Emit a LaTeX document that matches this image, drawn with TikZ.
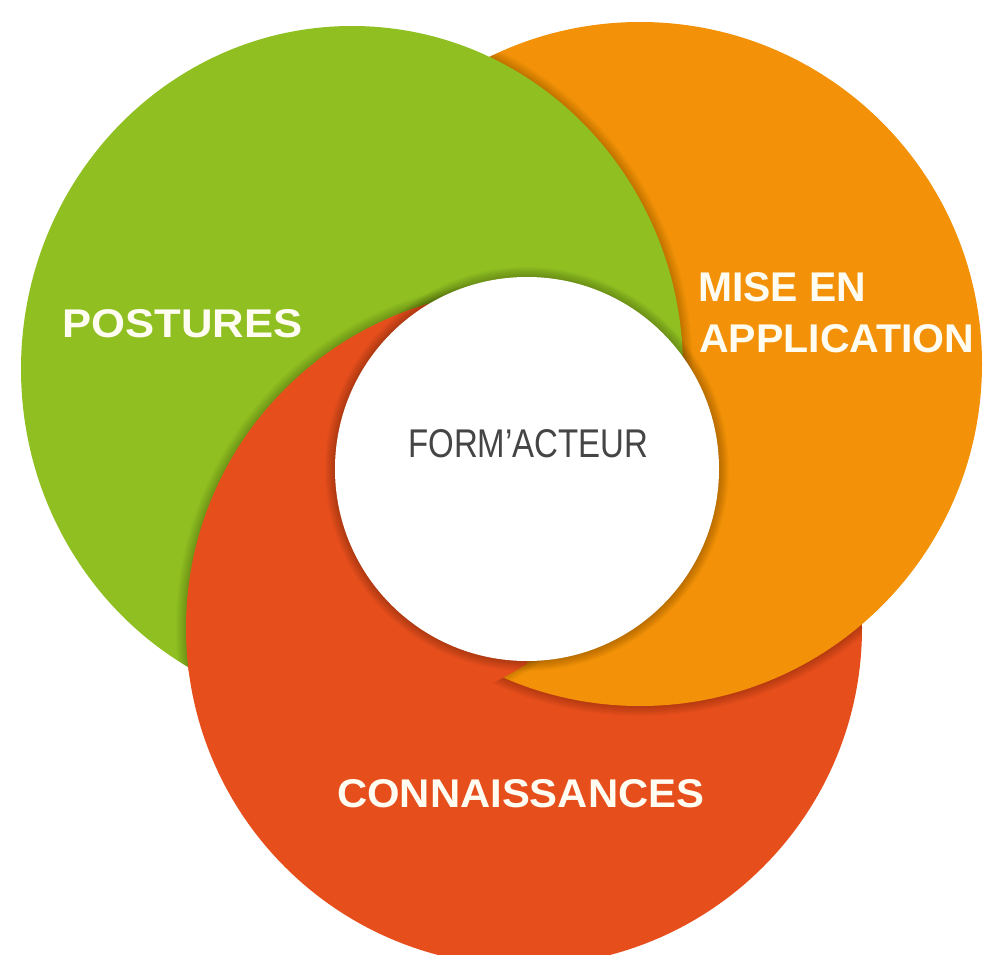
\documentclass[tikz,border=0pt]{standalone}
\usepackage{fontspec}
\setmainfont{Liberation Sans}
\usepackage{graphicx}
\definecolor{cgreen}{HTML}{8FBF21}
\definecolor{corange}{HTML}{F39208}
\definecolor{cred}{HTML}{E64E1C}
\definecolor{ctext}{HTML}{454545}
\definecolor{ccream}{HTML}{FFFDF2}
\begin{document}
\begin{tikzpicture}[x=1pt,y=-1pt,
  lab/.style={inner sep=0pt, anchor=south west, text=ccream, font=\bfseries},
  ctr/.style={inner sep=0pt, anchor=south west, text=ctext},
  shadowring/.style={black, opacity=0.02}]
\useasboundingbox (0,0) rectangle (986,955);
\fill[white] (0,0) rectangle (986,955);
\coordinate (G) at (352,369);
\coordinate (O) at (640,364);
\coordinate (R) at (524,628);
\coordinate (W) at (527,469);
% red base
\fill[cred] (R) circle[radius=338pt];
% orange over red, with shadow
\begin{scope}
  \clip (R) circle[radius=338pt];
  \foreach \d in {1,...,10} \fill[shadowring] (O) circle[radius={(342+\d)*1pt}];
\end{scope}
\fill[corange] (O) circle[radius=342pt];
% green over orange, with shadow
\begin{scope}
  \clip (O) circle[radius=342pt];
  \foreach \d in {1,...,10} \fill[shadowring] (G) ellipse[x radius={(331+\d)*1pt}, y radius={(343+\d)*1pt}];
\end{scope}
\fill[cgreen] (G) ellipse[x radius=331pt, y radius=343pt];
% red over green (left part), with shadow
\begin{scope}
  \clip (0,0) rectangle (527,955);
  \clip (G) ellipse[x radius=331pt, y radius=343pt];
  \foreach \d in {1,...,10} \fill[shadowring] (R) circle[radius={(338+\d)*1pt}];
\end{scope}
\begin{scope}
  \clip (0,0) rectangle (527,955);
  \clip (G) ellipse[x radius=334pt, y radius=346pt];
  \fill[cred] (R) circle[radius=338pt];
\end{scope}
% white centre with soft shadow
\foreach \d in {1,...,10} \fill[black, opacity=0.025] (W) circle[radius={(192+\d)*1pt}];
\fill[white] (W) circle[radius=192pt];
% labels
\node[lab] (post) at (62,338) {\resizebox{240pt}{28pt}{POSTURES}};
\node[lab] (mise) at (698,302) {\resizebox{168pt}{29pt}{MISE EN}};
\node[lab] (appl) at (699,353) {\resizebox{275pt}{28pt}{APPLICATION}};
\node[lab] (conn) at (337,808) {\resizebox{367pt}{28pt}{CONNAISSANCES}};
\node[ctr] (form) at (408,458) {\resizebox{240pt}{28pt}{FORM’ACTEUR}};
\end{tikzpicture}
\end{document}
